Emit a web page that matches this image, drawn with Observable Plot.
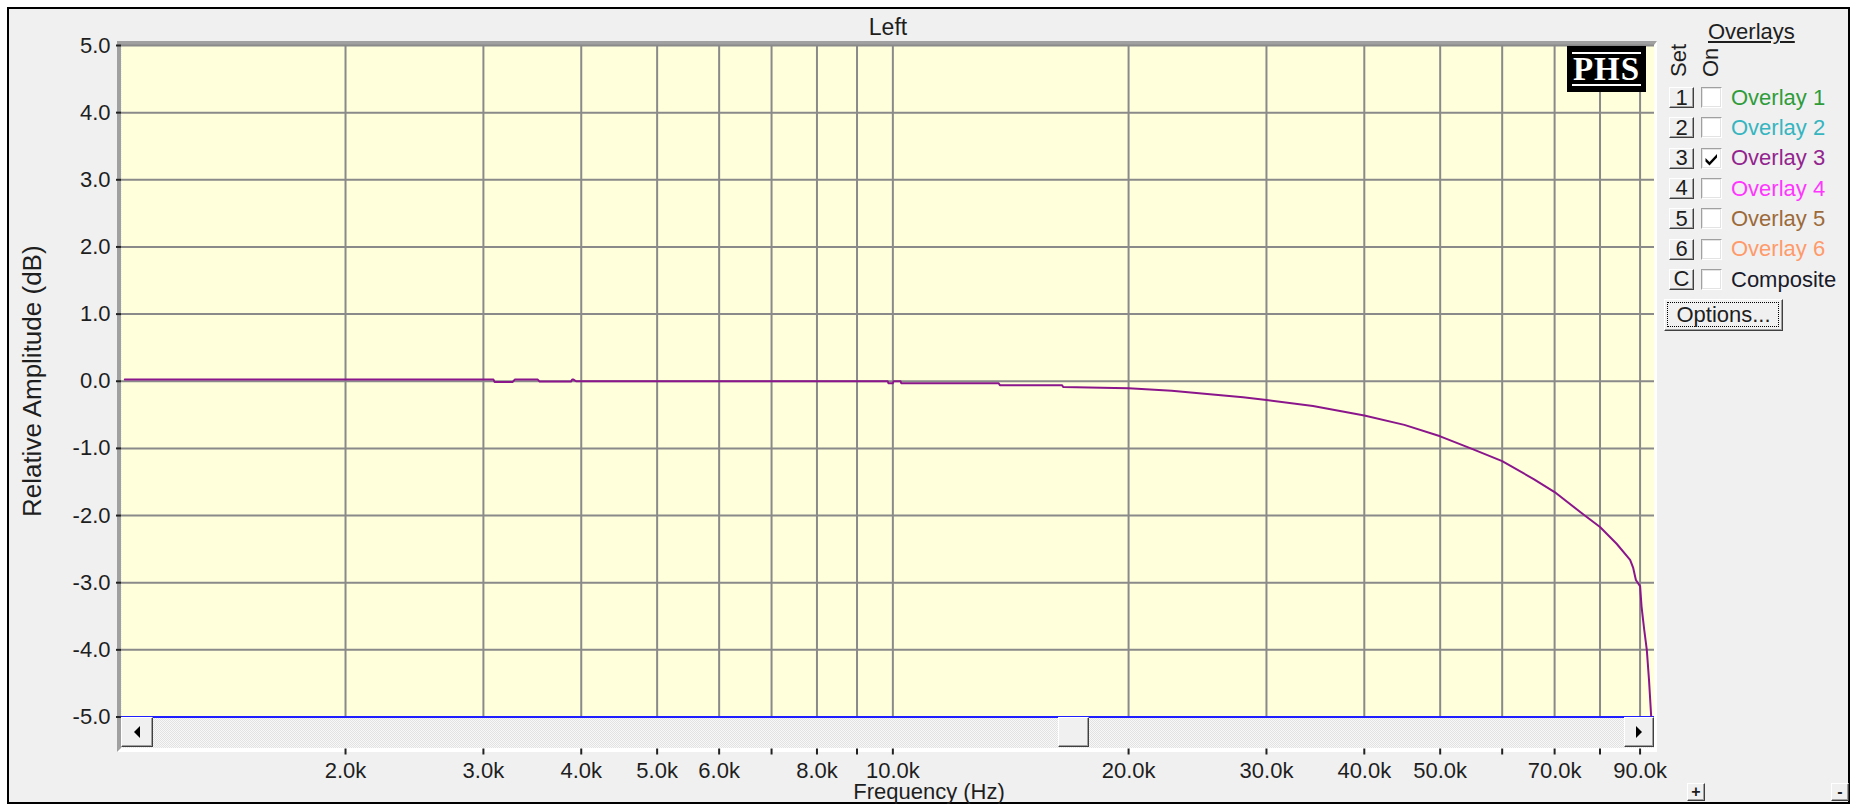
<!DOCTYPE html>
<html>
<head>
<meta charset="utf-8">
<script src="https://cdn.jsdelivr.net/npm/d3@7"></script>
<script src="https://cdn.jsdelivr.net/npm/@observablehq/plot@0.6"></script>
<style>
html,body{margin:0;padding:0;background:#fff;}
body{width:1857px;height:804px;overflow:hidden;position:relative;font-family:"Liberation Sans",Arial,sans-serif;color:#1e1e1e;}
.abs{position:absolute;box-sizing:border-box;}
#panel{left:7px;top:7px;width:1843px;height:797px;border:2px solid #000;background:#f0f0f0;}
#sunken{left:117px;top:41px;width:1540px;height:711px;border-top:4px solid #a0a0a0;border-left:4px solid #a0a0a0;border-right:3px solid #fff;border-bottom:4px solid #fff;
  background:repeating-conic-gradient(#f8f8f8 0% 25%, #e2e2e2 0% 50%) 0 0/2px 2px;}
#chart{position:absolute;left:0;top:0;}
.btn{position:absolute;box-sizing:border-box;background:#f0f0f0;border-top:1px solid #fff;border-left:1px solid #fff;border-right:1px solid #404040;border-bottom:1px solid #404040;box-shadow:inset -1px -1px #a0a0a0;display:flex;align-items:center;justify-content:center;font-size:22px;line-height:1;}
.chk{position:absolute;box-sizing:border-box;background:#fff;border-top:1px solid #a0a0a0;border-left:1px solid #a0a0a0;border-right:1px solid #fff;border-bottom:1px solid #fff;box-shadow:inset 1px 1px #e3e3e3, inset -1px -1px #e3e3e3;}
.lbl{position:absolute;font-size:22px;line-height:26px;white-space:nowrap;}
.rot{position:absolute;font-size:22px;line-height:22px;white-space:nowrap;transform-origin:left top;transform:rotate(-90deg);}
#logo{left:1567px;top:46px;width:79px;height:46px;background:#000;}
</style>
</head>
<body>
<div id="panel" class="abs"></div>
<div id="sunken" class="abs"></div>
<div id="chart"></div>
<div id="overlay"></div>
<script>
// ---- data ----
const freqHz = [1045, 3090, 3100, 3270, 3290, 3520, 3540, 3880, 3895, 3910, 3940, 9850, 9870, 10000, 10020, 10230, 10250, 13650, 13700, 16450, 16500, 19200, 20000, 22700, 25200, 28000, 30000, 34400, 40000, 45000, 50000, 55000, 60000, 65900, 70000, 76200, 80000, 84000, 87400, 88200, 88900, 90000, 90400, 91100, 91800, 92400, 93000];
const levelDb = [0.025, 0.025, -0.01, -0.01, 0.025, 0.025, -0.005, -0.005, 0.025, 0.025, 0, 0, -0.03, -0.03, 0, 0, -0.03, -0.03, -0.06, -0.06, -0.085, -0.1, -0.105, -0.14, -0.19, -0.24, -0.28, -0.37, -0.51, -0.65, -0.82, -1.01, -1.19, -1.46, -1.65, -1.985, -2.17, -2.42, -2.66, -2.78, -2.96, -3.05, -3.36, -3.70, -4.0, -4.45, -5.0];
const xTickHz = [2000, 3000, 4000, 5000, 6000, 7000, 8000, 9000, 10000, 20000, 30000, 40000, 50000, 60000, 70000, 80000, 90000];
const xTickLabels = ["2.0k", "3.0k", "4.0k", "5.0k", "6.0k", "", "8.0k", "", "10.0k", "20.0k", "30.0k", "40.0k", "50.0k", "", "70.0k", "", "90.0k"];
const yTicks = [5, 4, 3, 2, 1, 0, -1, -2, -3, -4, -5];
const xDomain = [1035, 93900];
const yDomain = [-5, 5];
const floorDb = [-5];
const chartTitle = "Left";
const xTitle = "Frequency (Hz)";
const yTitle = "Relative Amplitude (dB)";
const legendSets = ["1", "2", "3", "4", "5", "6", "C"];
const legendNames = ["Overlay 1", "Overlay 2", "Overlay 3", "Overlay 4", "Overlay 5", "Overlay 6", "Composite"];
const legendOn = [false, false, true, false, false, false, false];
const legendColors = ["#2e9c3a", "#35b5bf", "#93248f", "#ff36ff", "#9c6a3a", "#ff9a6a", "#1a1a2a"];

const data = freqHz.map((f, i) => ({f, db: levelDb[i]}));
const labelOf = new Map(xTickHz.map((t, i) => [t, xTickLabels[i]]));

const W = 1857, H = 804;
const chart = Plot.plot({
  width: W, height: H,
  marginLeft: 121, marginRight: 203, marginTop: 45, marginBottom: 87.5,
  x: {type: "log", domain: xDomain},
  y: {domain: yDomain},
  style: {background: "transparent", fontFamily: "'Liberation Sans', Arial, sans-serif", fontSize: "22px", color: "#1e1e1e", overflow: "visible"},
  marks: [
    Plot.frame({fill: "#ffffdc", stroke: null}),
    Plot.gridX(xTickHz, {stroke: "#8a8a8a", strokeOpacity: 1, strokeWidth: 2}),
    Plot.gridY(yTicks, {stroke: "#8a8a8a", strokeOpacity: 1, strokeWidth: 2}),
    Plot.ruleY(floorDb, {stroke: "#1f1fff", strokeWidth: 2}),
    Plot.line(data, {x: "f", y: "db", stroke: "#8b168b", strokeWidth: 2, clip: true}),
    Plot.axisY(yTicks, {anchor: "left", tickSize: 5, tickPadding: 6, tickFormat: d => d.toFixed(1), label: null, stroke: "#222", strokeWidth: 2}),
    Plot.axisX(xTickHz, {anchor: "bottom", dy: 32, tickSize: 6, tickPadding: 7, tickFormat: d => labelOf.get(d), label: null, stroke: "#222", strokeWidth: 2}),
    Plot.text([chartTitle], {frameAnchor: "top", dy: -27, fontSize: 23, fill: "#1e1e1e"}),
    Plot.text([xTitle], {frameAnchor: "bottom", dx: 41, dy: 82, fontSize: 22, fill: "#1e1e1e"}),
    Plot.text([yTitle], {frameAnchor: "left", textAnchor: "middle", dx: -89, rotate: -90, fontSize: 26, fill: "#1e1e1e"})
  ]
});
document.getElementById("chart").appendChild(chart);

// ---- window chrome / legend panel ----
const ov = document.getElementById("overlay");
function add(html) { ov.insertAdjacentHTML("beforeend", html); }

// PHS logo
add(`<div id="logo" class="abs">
  <div class="abs" style="left:5px;top:6px;width:69px;height:2px;background:#fff"></div>
  <div class="abs" style="left:0;top:8px;width:79px;text-align:center;font-family:'Liberation Serif','Times New Roman',serif;font-weight:bold;font-size:33px;line-height:30px;color:#fff;letter-spacing:1px">PHS</div>
  <div class="abs" style="left:5px;top:38px;width:69px;height:2px;background:#fff"></div>
</div>`);

// scrollbar buttons
const tri = dir => `<svg width="8" height="12" viewBox="0 0 8 12"><path d="${dir === 'l' ? 'M7 0 L1 6 L7 12 Z' : 'M1 0 L7 6 L1 12 Z'}" fill="#000"/></svg>`;
add(`<div class="btn" style="left:121px;top:717px;width:32px;height:30px">${tri('l')}</div>`);
add(`<div class="btn" style="left:1058px;top:717px;width:31px;height:30px"></div>`);
add(`<div class="btn" style="left:1624px;top:717px;width:30px;height:30px">${tri('r')}</div>`);

// +/- buttons
add(`<div class="btn" style="left:1687px;top:783px;width:18px;height:18px;font-size:16px;font-weight:bold">+</div>`);
add(`<div class="btn" style="left:1831px;top:783px;width:18px;height:18px;font-size:16px;font-weight:bold">-</div>`);

// legend header
add(`<div class="lbl" style="left:1708px;top:19px;text-decoration:underline;text-underline-offset:2px">Overlays</div>`);
add(`<div class="rot" style="left:1668px;top:77px">Set</div>`);
add(`<div class="rot" style="left:1700px;top:77px">On</div>`);

const check = `<svg width="19" height="19" viewBox="0 0 19 19" style="position:absolute;left:0;top:0"><path d="M3.5 9 L7.5 13 L15 5 L15 8.5 L7.5 16.5 L3.5 12.5 Z" fill="#000"/></svg>`;
legendSets.forEach((s, i) => {
  const c = 97.5 + i * 30.3;
  add(`<div class="btn" style="left:1669px;top:${c - 10.5}px;width:25px;height:21px">${s}</div>`);
  add(`<div class="chk" style="left:1701px;top:${c - 10.5}px;width:21px;height:21px">${legendOn[i] ? check : ""}</div>`);
  add(`<div class="lbl" style="left:1731px;top:${c - 12.7}px;color:${legendColors[i]}">${legendNames[i]}</div>`);
});

// Options button
add(`<div class="btn" style="left:1664px;top:299px;width:119px;height:32px">
  <div style="position:absolute;left:3px;top:3px;right:4px;bottom:4px;outline:1px dotted #000"></div>
  <span style="position:relative">Options...</span></div>`);
</script>
</body>
</html>
